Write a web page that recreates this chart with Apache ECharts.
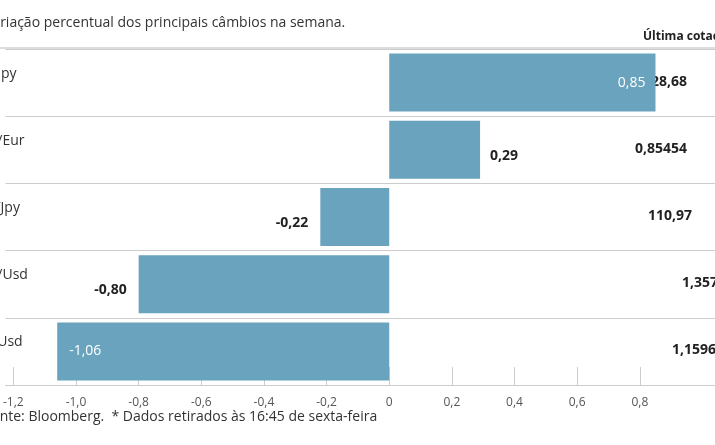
<!DOCTYPE html>
<html><head><meta charset="utf-8">
<script src="https://cdn.jsdelivr.net/npm/echarts@6/dist/echarts.min.js"></script>
<style>html,body{margin:0;padding:0;background:#fff}#main{width:715px;height:445px}</style>
</head><body><div id="main"></div>
<script>
//数据
var pares=['Eur/Jpy','Gbp/Eur','Usd/Jpy','Gbp/Usd','Eur/Usd'];
var variacao=[0.85,0.29,-0.22,-0.80,-1.06];
var cotacao=['128,68','0,85454','110,97','1,3573','1,1596'];
var cotacaoX=[643,635,648,682,672];
var ticks=[-1.2,-1.0,-0.8,-0.6,-0.4,-0.2,0,0.2,0.4,0.6,0.8];
var FONT="'Liberation Sans Narrow','Open Sans',sans-serif";

var myChart=echarts.init(document.getElementById('main'));
var gfx=[
  {type:'text',left:-16,top:16,style:{text:'Variação percentual dos principais câmbios na semana.',font:'14px '+FONT,fill:'#333'}},
  {type:'text',left:643,top:31,style:{text:'Última cotação*',font:'bold 12px '+FONT,fill:'#222'}},
  {type:'text',left:-16,top:410,style:{text:'Fonte: Bloomberg.  * Dados retirados às 16:45 de sexta-feira',font:'14px '+FONT,fill:'#333'}},
  {type:'rect',shape:{x:0,y:47,width:715,height:2},style:{fill:'#ddd'}}
];
cotacao.forEach(function(c,i){
  gfx.push({type:'text',left:cotacaoX[i],top:75+i*67,style:{text:c,font:'bold 14px '+FONT,fill:'#222'}});
  gfx.push({type:'text',left:-30,top:67+i*67,style:{text:pares[i],font:'14px '+FONT,fill:'#333'}});
});
var option={
  animation:false,
  grid:{left:0,right:0,top:49,bottom:60},
  xAxis:{type:'value',min:-1.225,max:1.04,
    axisLine:{show:true,onZero:false,lineStyle:{color:'#ccc'}},
    axisTick:{show:true,customValues:ticks,length:-18,lineStyle:{color:'#ccc'}},
    axisLabel:{customValues:ticks,color:'#555',fontSize:12,fontFamily:FONT,margin:12,
      formatter:function(v){return v===0?'0':v.toFixed(1).replace('.',',');}},
    splitLine:{show:false}},
  yAxis:{type:'category',data:pares,inverse:true,
    axisLine:{show:false},axisTick:{show:false},axisLabel:{show:false},
    splitLine:{show:true,lineStyle:{color:'#ccc'}}},
  series:[{type:'bar',barWidth:58,data:variacao.map(function(v){
      var inside=Math.abs(v)>0.84;
      return {value:v,label:{show:true,
        position:inside?(v>0?'insideRight':'insideLeft'):(v>0?'right':'left'),
        distance:v>0?10:12,
        color:inside?'#fff':'#222',fontWeight:inside?'normal':'bold',fontSize:14,fontFamily:FONT,
        offset:[0,inside?0:6],
        formatter:function(){return v.toFixed(2).replace('.',',');}}};
    }),
    itemStyle:{color:'#6aa3bd'}}],
  graphic:gfx
};
myChart.setOption(option);
</script></body></html>
